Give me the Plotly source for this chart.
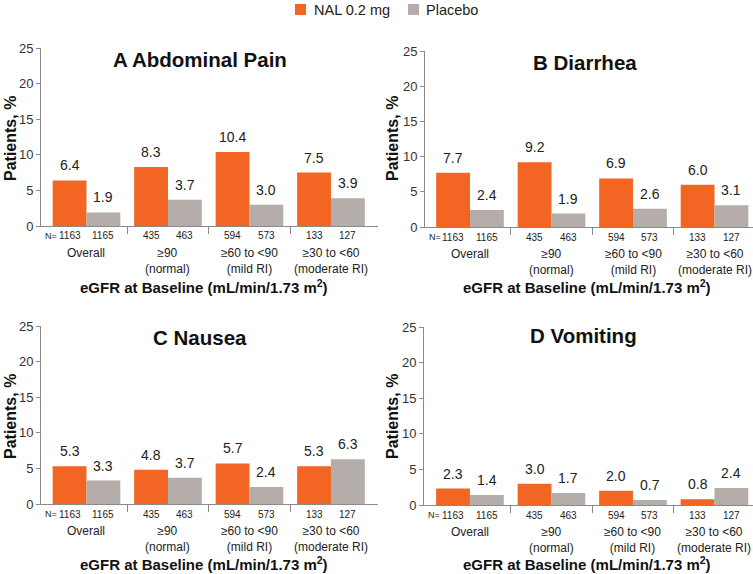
import plotly.graph_objects as go

W, H = 753, 574

# ---- data ----
panel_titles = ["A Abdominal Pain", "B Diarrhea", "C Nausea", "D Vomiting"]
group_labels = ["Overall", "≥90<br>(normal)", "≥60 to <90<br>(mild RI)", "≥30 to <60<br>(moderate RI)"]
n_nal = [1163, 435, 594, 133]
n_placebo = [1165, 463, 573, 127]

nal_abdominal_pain = [6.4, 8.3, 10.4, 7.5]
placebo_abdominal_pain = [1.9, 3.7, 3.0, 3.9]
nal_diarrhea = [7.7, 9.2, 6.9, 6.0]
placebo_diarrhea = [2.4, 1.9, 2.6, 3.1]
nal_nausea = [5.3, 4.8, 5.7, 5.3]
placebo_nausea = [3.3, 3.7, 2.4, 6.3]
nal_vomiting = [2.3, 3.0, 2.0, 0.8]
placebo_vomiting = [1.4, 1.7, 0.7, 2.4]

series_names = ["NAL 0.2 mg", "Placebo"]
y_ticks = [0, 5, 10, 15, 20, 25]

# ---- style ----
ORANGE = "#F26522"
GRAY = "#B4ADA9"
AXIS = "#8a8a8a"
TXT = "#222222"
FONT = "Liberation Sans, Arial, Helvetica, sans-serif"
NARROW = "Liberation Sans Narrow, Arial Narrow, Liberation Sans, sans-serif"

def px_x(x):
    return x / W

def px_y(y):
    return 1 - y / H

# panel geometry in pixels: plot left, right, top, bottom, x-range
panels = [
    dict(l=41, r=378, t=48, b=226, xr=[-0.558, 3.577], title=(200, 59), ytitle=(10, 139), xtitle=(204, 286),
         nal=nal_abdominal_pain, pbo=placebo_abdominal_pain),
    dict(l=425, r=753, t=51, b=227, xr=[-0.552, 3.472], title=(585, 62), ytitle=(392, 139), xtitle=(587, 286),
         nal=nal_diarrhea, pbo=placebo_diarrhea),
    dict(l=41, r=378, t=326, b=504, xr=[-0.558, 3.577], title=(200, 337), ytitle=(10, 417), xtitle=(204, 563),
         nal=nal_nausea, pbo=placebo_nausea),
    dict(l=424, r=753, t=327, b=505, xr=[-0.564, 3.473], title=(583, 335), ytitle=(392, 417), xtitle=(587, 563),
         nal=nal_vomiting, pbo=placebo_vomiting),
]

BW = 0.415
OFF = BW / 2

fig = go.Figure()
annotations = []
shapes = []
layout_axes = {}

def ann(**kw):
    kw.setdefault("showarrow", False)
    kw.setdefault("xanchor", "center")
    kw.setdefault("yanchor", "middle")
    annotations.append(kw)

for k, p in enumerate(panels):
    sfx = "" if k == 0 else str(k + 1)
    xa, ya = "x" + sfx, "y" + sfx
    idx = list(range(len(group_labels)))
    for vals, color, name, sign in [(p["nal"], ORANGE, series_names[0], -1), (p["pbo"], GRAY, series_names[1], 1)]:
        xs = [i + sign * OFF for i in idx]
        fig.add_trace(go.Bar(x=xs, y=vals, width=BW, marker=dict(color=color, line=dict(width=0)),
                             name=name, showlegend=False, xaxis=xa, yaxis=ya, hoverinfo="y"))
        for x, v in zip(xs, vals):
            ann(x=x, y=v, xref=xa, yref=ya, text=f"{v:.1f}", yanchor="bottom", yshift=5,
                font=dict(size=14, color=TXT, family=FONT))
    # N labels
    ny = px_y(p["b"] + 10)
    ann(x=p["xr"][0] + 0.02, y=ny, xref=xa, yref="paper", text="N=", xanchor="left",
        font=dict(size=9, color=TXT, family=NARROW))
    for i in idx:
        for x, n in [(i - OFF, n_nal[i]), (i + OFF, n_placebo[i])]:
            ann(x=x, y=ny, xref=xa, yref="paper", text=str(n), font=dict(size=10, color=TXT, family=NARROW))
        ann(x=i, y=px_y(p["b"] + 18), xref=xa, yref="paper", text=group_labels[i], yanchor="top",
            align="center", font=dict(size=12, color=TXT, family=FONT))
    # titles
    ann(x=px_x(p["title"][0]), y=px_y(p["title"][1]), xref="paper", yref="paper",
        text="<b>" + panel_titles[k] + "</b>", font=dict(size=20.5, color="#111", family=FONT))
    ann(x=px_x(p["ytitle"][0]), y=px_y(p["ytitle"][1]), xref="paper", yref="paper",
        text="<b>Patients, %</b>", textangle=-90, font=dict(size=16, color="#111", family=FONT))
    ann(x=px_x(p["xtitle"][0]), y=px_y(p["xtitle"][1]), xref="paper", yref="paper",
        text="<b>eGFR at Baseline (mL/min/1.73 m<sup>2</sup>)</b>", font=dict(size=15, color="#111", family=FONT))

    layout_axes["xaxis" + sfx] = dict(domain=[px_x(p["l"]), px_x(p["r"])], range=p["xr"], anchor=ya,
                                      showline=True, linecolor=AXIS, linewidth=1, showgrid=False, zeroline=False,
                                      tickvals=[0.5, 1.5, 2.5], showticklabels=False, ticks="outside",
                                      ticklen=7, tickcolor=AXIS, fixedrange=True, automargin=False)
    layout_axes["yaxis" + sfx] = dict(domain=[px_y(p["b"]), px_y(p["t"])], range=[0, 25], anchor=xa,
                                      tickvals=y_ticks, showline=True, linecolor=AXIS, linewidth=1,
                                      showgrid=False, zeroline=False, ticks="outside", ticklen=4,
                                      tickcolor=AXIS, tickfont=dict(size=13, color="#333", family=FONT),
                                      fixedrange=True, automargin=False)

# manual legend
for (sx, tx, color, name) in [(295, 312, ORANGE, series_names[0]), (408, 424, GRAY, series_names[1])]:
    shapes.append(dict(type="rect", xref="paper", yref="paper", x0=px_x(sx), x1=px_x(sx + 11),
                       y0=px_y(15), y1=px_y(4), fillcolor=color, line=dict(width=0)))
    ann(x=px_x(tx), y=px_y(9.5), xref="paper", yref="paper", text=name, xanchor="left",
        font=dict(size=14.5, color=TXT, family=FONT))

fig.update_layout(
    width=W, height=H, margin=dict(l=0, r=0, t=0, b=0, pad=0, autoexpand=False),
    paper_bgcolor="white", plot_bgcolor="white",
    barmode="overlay", showlegend=False,
    annotations=annotations, shapes=shapes,
    font=dict(family=FONT, color=TXT),
    **layout_axes,
)

fig.write_html("out.html", config={"displayModeBar": False},
               post_script="document.body.style.margin='0';")
